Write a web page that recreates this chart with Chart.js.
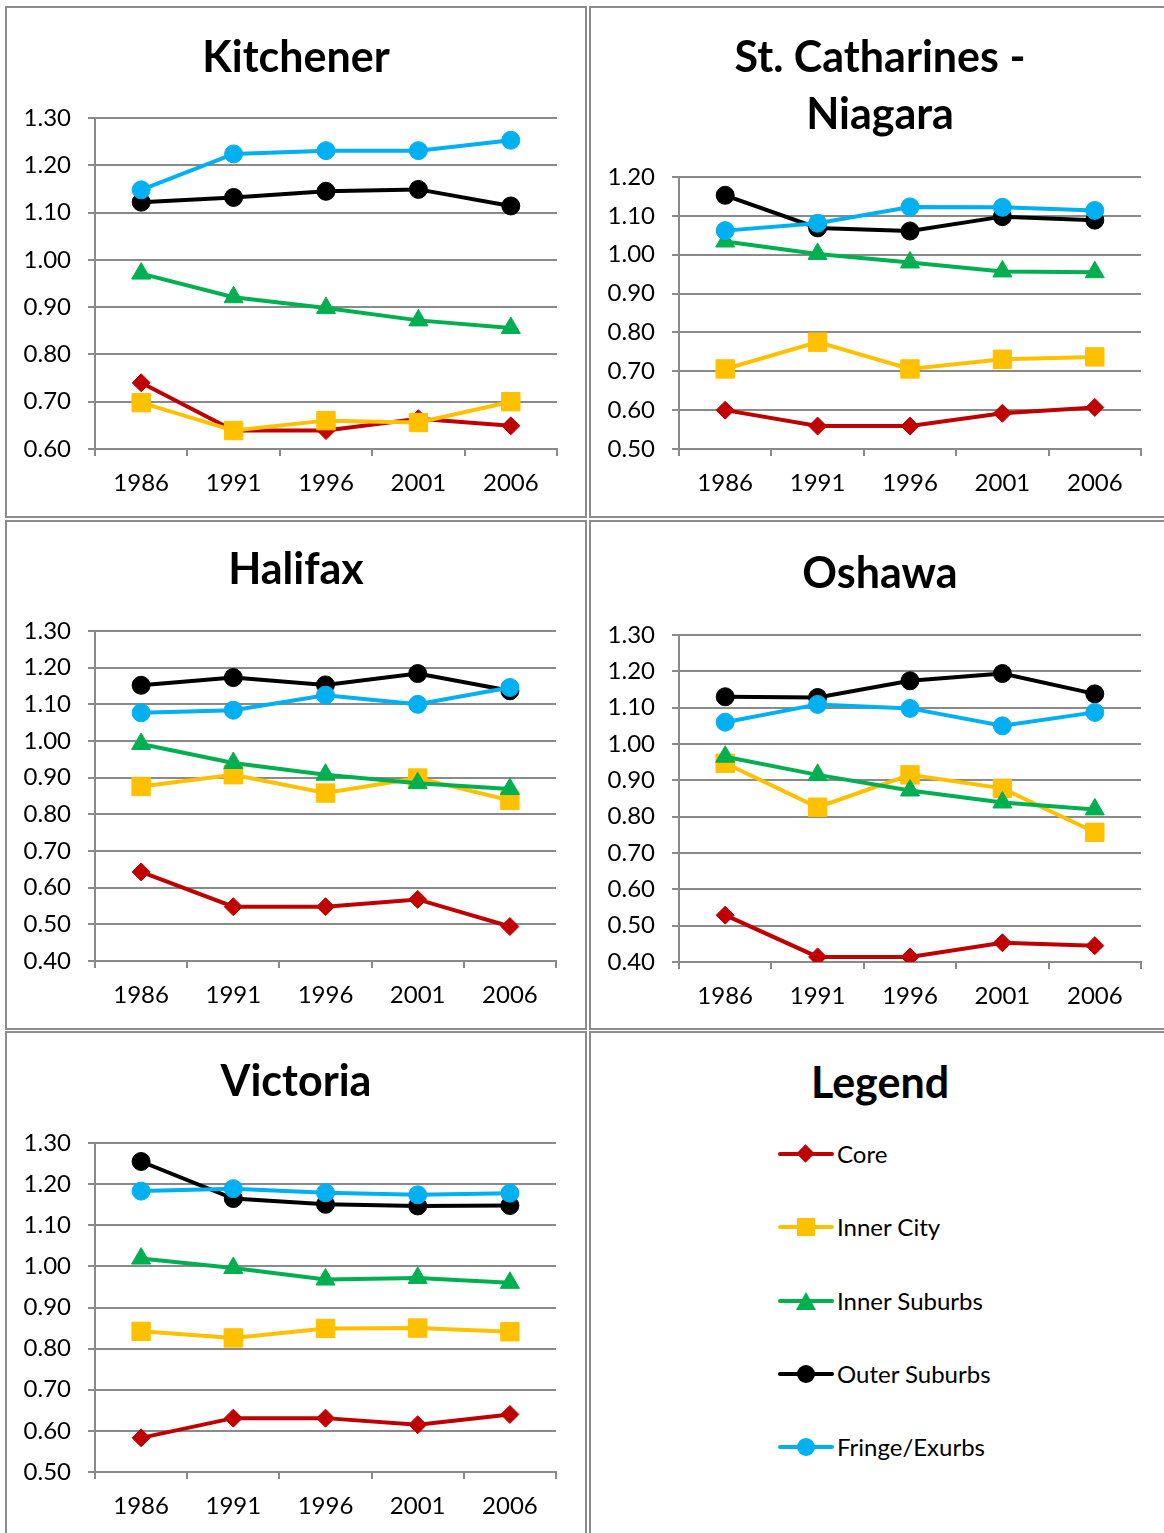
<!DOCTYPE html>
<html>
<head>
<meta charset="utf-8">
<script src="https://cdn.jsdelivr.net/npm/chart.js@4.4.1/dist/chart.umd.min.js"></script>
<style>
body { margin: 0; background: #fff; width: 1164px; height: 1533px; overflow: hidden; position: relative; font-family: Lato, sans-serif; }
.panel { position: absolute; border: 2px solid #8c8c8c; box-sizing: border-box; background: #fff; }
.panel canvas { position: absolute; left: 0; top: 0; }
.legend-title { position: absolute; left: 0; width: 578px; top: 20px; text-align: center; font-weight: bold; font-size: 43px; line-height: 57px; color: #000; }
.item { position: absolute; left: 187px; height: 30px; }
.item .ln { position: absolute; left: 0; top: 13px; width: 56px; height: 4px; border-radius: 2px; }
.item .mk { position: absolute; }
.item .tx { position: absolute; left: 59px; top: 0; font-size: 24px; line-height: 30px; white-space: nowrap; color: #000; }
</style>
</head>
<body>
<div class="panel" style="left:5px;top:6px;width:582px;height:512px"><canvas id="kitchener" width="578" height="508"></canvas></div>
<div class="panel" style="left:589px;top:6px;width:582px;height:512px"><canvas id="stcath" width="578" height="508"></canvas></div>
<div class="panel" style="left:5px;top:520px;width:582px;height:510px"><canvas id="halifax" width="578" height="506"></canvas></div>
<div class="panel" style="left:589px;top:520px;width:582px;height:510px"><canvas id="oshawa" width="578" height="506"></canvas></div>
<div class="panel" style="left:5px;top:1031px;width:582px;height:510px"><canvas id="victoria" width="578" height="506"></canvas></div>
<div class="panel" id="legendPanel" style="left:589px;top:1031px;width:582px;height:510px">
  <div class="legend-title">Legend</div>
</div>

<script>
const years = ['1986', '1991', '1996', '2001', '2006'];
const seriesNames = ['Core', 'Inner City', 'Inner Suburbs', 'Outer Suburbs', 'Fringe/Exurbs'];
const seriesColors = ['#C00000', '#FFC000', '#00B050', '#000000', '#00B0F0'];
const pointStyles = ['rectRot', 'rect', 'triangle', 'circle', 'circle'];
const pointSizes = [9, 13, 11, 9, 9];

// rows: Core, Inner City, Inner Suburbs, Outer Suburbs, Fringe/Exurbs
const kitchener = [
    [0.740, 0.639, 0.639, 0.664, 0.649],
    [0.698, 0.639, 0.660, 0.656, 0.700],
    [0.971, 0.921, 0.898, 0.872, 0.856],
    [1.122, 1.132, 1.145, 1.149, 1.114],
    [1.148, 1.224, 1.231, 1.231, 1.253]
];
const kitchenerRange = [0.6, 1.3];

const stCatharines = [
    [0.600, 0.559, 0.559, 0.592, 0.607],
    [0.706, 0.775, 0.706, 0.731, 0.737],
    [1.034, 1.002, 0.980, 0.957, 0.955],
    [1.153, 1.069, 1.061, 1.098, 1.089],
    [1.062, 1.081, 1.123, 1.122, 1.114]
];
const stCatharinesRange = [0.5, 1.2];

const halifax = [
    [0.643, 0.548, 0.548, 0.568, 0.494],
    [0.876, 0.908, 0.858, 0.899, 0.838],
    [0.992, 0.940, 0.908, 0.885, 0.869],
    [1.152, 1.173, 1.153, 1.184, 1.137],
    [1.077, 1.084, 1.125, 1.100, 1.146]
];
const halifaxRange = [0.4, 1.3];

const oshawa = [
    [0.529, 0.414, 0.414, 0.453, 0.445],
    [0.947, 0.826, 0.915, 0.878, 0.757],
    [0.965, 0.915, 0.872, 0.839, 0.820],
    [1.130, 1.128, 1.174, 1.194, 1.138],
    [1.060, 1.109, 1.098, 1.050, 1.087]
];
const oshawaRange = [0.4, 1.3];

const victoria = [
    [0.583, 0.631, 0.631, 0.615, 0.640],
    [0.842, 0.826, 0.849, 0.850, 0.841],
    [1.019, 0.996, 0.968, 0.972, 0.960],
    [1.255, 1.165, 1.151, 1.147, 1.148],
    [1.183, 1.189, 1.179, 1.174, 1.178]
];
const victoriaRange = [0.5, 1.3];

Chart.defaults.font.family = 'Lato, sans-serif';
const gridColor = '#8a8a8a';

function makeChart(id, titleLines, values, range, g) {
    const canvas = document.getElementById(id);
    const lh = 57;
    const padTop = g.titleY - lh / 2;
    const padBottom = g.top - padTop - lh * titleLines.length;
    const rightGap = canvas.width - g.right;

    new Chart(canvas, {
        type: 'line',
        data: {
            labels: years,
            datasets: values.map((v, i) => ({
                label: seriesNames[i],
                data: v,
                borderColor: seriesColors[i],
                backgroundColor: seriesColors[i],
                borderWidth: 4,
                pointStyle: pointStyles[i],
                pointRadius: pointSizes[i],
                pointBorderWidth: 1,
                tension: 0,
                order: 4 - i   // later series drawn on top
            }))
        },
        options: {
            responsive: false,
            animation: false,
            devicePixelRatio: 1,
            layout: { autoPadding: false, padding: 0 },
            plugins: {
                legend: { display: false },
                tooltip: { enabled: false },
                title: {
                    display: true,
                    text: titleLines,
                    color: '#000',
                    font: { size: 43, weight: 'bold', lineHeight: lh / 43 },
                    padding: { top: padTop, bottom: padBottom }
                }
            },
            scales: {
                x: {
                    offset: true,
                    grid: { drawOnChartArea: false, offset: true, tickLength: 7, color: gridColor, lineWidth: 2 },
                    border: { color: gridColor, width: 2 },
                    ticks: { color: '#000', font: { size: 24 }, padding: 13, maxRotation: 0, autoSkip: false },
                    afterFit: s => { s.height = canvas.height - g.bottom; }
                },
                y: {
                    min: range[0],
                    max: range[1],
                    ticks: { stepSize: 0.1, color: '#000', font: { size: 24 }, padding: 17, callback: v => v.toFixed(2) },
                    grid: { color: gridColor, lineWidth: 2, tickLength: 7 },
                    border: { color: gridColor, width: 2 },
                    afterFit: s => { s.width = g.left; }
                },
                // empty spacer on the right so the title stays centred on the panel
                spacer: {
                    position: 'right',
                    grid: { display: false, drawTicks: false },
                    border: { display: false },
                    ticks: { display: false },
                    afterFit: s => { s.width = rightGap; }
                }
            }
        }
    });
}

makeChart('kitchener', ['Kitchener'], kitchener, kitchenerRange, { titleY: 50, top: 110, bottom: 441, left: 88, right: 550 });
makeChart('stcath', ['St. Catharines -', 'Niagara'], stCatharines, stCatharinesRange, { titleY: 50, top: 169, bottom: 441, left: 88, right: 550 });
makeChart('halifax', ['Halifax'], halifax, halifaxRange, { titleY: 48, top: 109, bottom: 439, left: 88, right: 549 });
makeChart('oshawa', ['Oshawa'], oshawa, oshawaRange, { titleY: 52, top: 113, bottom: 440, left: 88, right: 550 });
makeChart('victoria', ['Victoria'], victoria, victoriaRange, { titleY: 49, top: 110, bottom: 439, left: 88, right: 549 });

// legend panel
const legendPanel = document.getElementById('legendPanel');
const legendRows = [121, 194, 268, 341, 414];
seriesNames.forEach((name, i) => {
    const item = document.createElement('div');
    item.className = 'item';
    item.style.top = (legendRows[i] - 15) + 'px';

    const ln = document.createElement('div');
    ln.className = 'ln';
    ln.style.background = seriesColors[i];
    item.appendChild(ln);

    const mk = document.createElement('div');
    mk.className = 'mk';
    const c = seriesColors[i];
    if (pointStyles[i] === 'rectRot') {
        mk.style.cssText = `left:21px;top:8px;width:13px;height:13px;background:${c};transform:rotate(45deg)`;
    } else if (pointStyles[i] === 'rect') {
        mk.style.cssText = `left:19px;top:6px;width:18px;height:18px;background:${c}`;
    } else if (pointStyles[i] === 'triangle') {
        mk.style.cssText = `left:18px;top:6px;width:0;height:0;border-left:10px solid transparent;border-right:10px solid transparent;border-bottom:18px solid ${c}`;
    } else {
        mk.style.cssText = `left:19px;top:6px;width:18px;height:18px;border-radius:50%;background:${c}`;
    }
    item.appendChild(mk);

    const tx = document.createElement('div');
    tx.className = 'tx';
    tx.textContent = name;
    item.appendChild(tx);

    legendPanel.appendChild(item);
});
</script>
</body>
</html>
